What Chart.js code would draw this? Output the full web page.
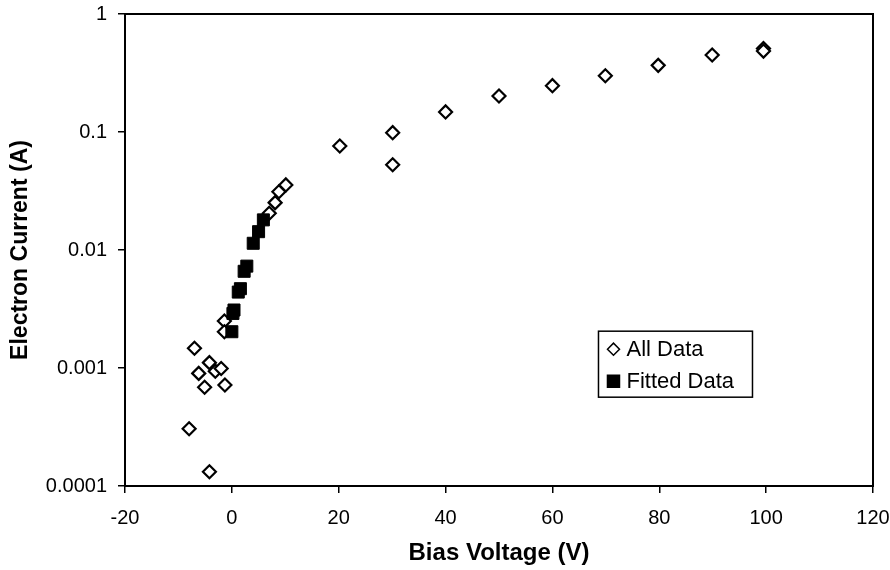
<!DOCTYPE html>
<html>
<head>
<meta charset="utf-8">
<script src="https://cdn.jsdelivr.net/npm/chart.js@4/dist/chart.umd.min.js"></script>
<style>
    body { margin: 0; background: #fff; }
    canvas { display: block; }
</style>
</head>
<body>
<canvas id="probeChart" width="890" height="570"></canvas>
<script>
// bias sweep, every recorded point
const allVoltage = [-8.0, -7.0, -6.2, -5.1, -4.2, -4.2, -3.1, -2.0, -1.3, -1.4, -1.4,
    7.0, 8.1, 8.8, 10.1, 20.2, 30.1, 30.1, 40.0, 50.0, 60.0, 69.9, 79.8, 89.9, 99.5, 99.5];
const allCurrent = [0.000306, 0.00147, 0.00090, 0.000686, 0.00111, 0.000132, 0.00094, 0.00099, 0.000718, 0.0025, 0.00203,
    0.0205, 0.0252, 0.0312, 0.0356, 0.076, 0.0987, 0.0528, 0.148, 0.202, 0.247, 0.300, 0.367, 0.449, 0.51, 0.485];

// points used for the exponential fit
const fitVoltage = [0.0, 0.2, 0.4, 1.2, 1.6, 2.3, 2.8, 4.0, 5.0, 5.9];
const fitCurrent = [0.00203, 0.0029, 0.0031, 0.0044, 0.0047, 0.0066, 0.0073, 0.0114, 0.0143, 0.0180];

const yTicks = [0.0001, 0.001, 0.01, 0.1, 1];
const xMin = -20, xMax = 120, xStep = 20;

function toPoints(xs, ys) {
    return xs.map((x, i) => ({x: x, y: ys[i]}));
}

const FONT = "'Liberation Sans', Arial, sans-serif";

// black frame round the plot area (top and right edges too)
const frame = {
    id: 'frame',
    afterDatasetsDraw(chart) {
        const a = chart.chartArea;
        const ctx = chart.ctx;
        ctx.save();
        ctx.strokeStyle = '#000';
        ctx.lineWidth = 2;
        ctx.strokeRect(a.left, a.top, a.right - a.left, a.bottom - a.top);
        ctx.restore();
    }
};

// boxed legend sitting inside the plot area
const boxLegend = {
    id: 'boxLegend',
    afterDraw(chart, args, opts) {
        const a = chart.chartArea;
        const ctx = chart.ctx;
        const left = a.left + opts.left * (a.right - a.left);
        const top = a.top + opts.top * (a.bottom - a.top);
        ctx.save();
        ctx.fillStyle = '#fff';
        ctx.fillRect(left, top, opts.width, opts.height);
        ctx.strokeStyle = '#000';
        ctx.lineWidth = 1.5;
        ctx.strokeRect(left, top, opts.width, opts.height);
        ctx.font = '22px ' + FONT;
        ctx.textBaseline = 'middle';
        chart.data.datasets.forEach((ds, i) => {
            const cy = top + 18 + i * 32;
            ctx.strokeStyle = '#000';
            ctx.fillStyle = ds.backgroundColor;
            Chart.helpers.drawPoint(ctx, {
                pointStyle: ds.pointStyle,
                radius: ds.pointStyle === 'rect' ? 8.5 : 6,
                borderWidth: ds.pointStyle === 'rect' ? 1 : 2,
                rotation: 0
            }, left + 15, cy);
            ctx.fillStyle = '#000';
            ctx.fillText(ds.label, left + 28, cy + 1);
        });
        ctx.restore();
    }
};

// fixed axis boxes; tick labels may hang past the plot edges
function fixX(s) {
    s.height = 84;
    s.paddingLeft = 0;
    s.paddingRight = 0;
}
function fixY(s) {
    s.width = 125;
    s.paddingTop = 0;
    s.paddingBottom = 0;
}

new Chart(document.getElementById('probeChart'), {
    type: 'scatter',
    data: {
        datasets: [
            {
                label: 'All Data',
                data: toPoints(allVoltage, allCurrent),
                pointStyle: 'rectRot',
                radius: 6.5,
                borderWidth: 2.2,
                borderColor: '#000',
                backgroundColor: '#fff',
                order: 1
            },
            {
                label: 'Fitted Data',
                data: toPoints(fitVoltage, fitCurrent),
                pointStyle: 'rect',
                radius: 8.5,
                borderWidth: 1,
                borderColor: '#000',
                backgroundColor: '#000',
                order: 0
            }
        ]
    },
    options: {
        responsive: false,
        animation: false,
        layout: {padding: {top: 14, right: 17, left: 0, bottom: 0}},
        plugins: {
            legend: {display: false},
            tooltip: {enabled: false},
            boxLegend: {left: 0.633, top: 0.672, width: 154, height: 66}
        },
        scales: {
            x: {
                type: 'linear',
                min: xMin,
                max: xMax,
                afterFit: fixX,
                ticks: {
                    stepSize: xStep,
                    color: '#000',
                    padding: 13,
                    font: {family: FONT, size: 20}
                },
                grid: {drawOnChartArea: false, drawTicks: true, tickLength: 7, color: '#000', lineWidth: 1.5},
                border: {display: true, color: '#000', width: 2},
                title: {
                    display: true,
                    text: 'Bias Voltage (V)',
                    color: '#000',
                    font: {family: FONT, size: 24, weight: 'bold'},
                    padding: {top: 0, bottom: 2}
                }
            },
            y: {
                type: 'logarithmic',
                min: yTicks[0],
                max: yTicks[yTicks.length - 1],
                afterFit: fixY,
                afterBuildTicks: s => { s.ticks = yTicks.map(v => ({value: v})); },
                ticks: {
                    color: '#000',
                    padding: 11,
                    font: {family: FONT, size: 20},
                    callback: v => String(v)
                },
                grid: {drawOnChartArea: false, drawTicks: true, tickLength: 7, color: '#000', lineWidth: 1.5},
                border: {display: true, color: '#000', width: 2},
                title: {
                    display: true,
                    text: 'Electron Current (A)',
                    color: '#000',
                    font: {family: FONT, size: 23, weight: 'bold'},
                    padding: {top: 7, bottom: 0}
                }
            }
        }
    },
    plugins: [frame, boxLegend]
});
</script>
</body>
</html>
